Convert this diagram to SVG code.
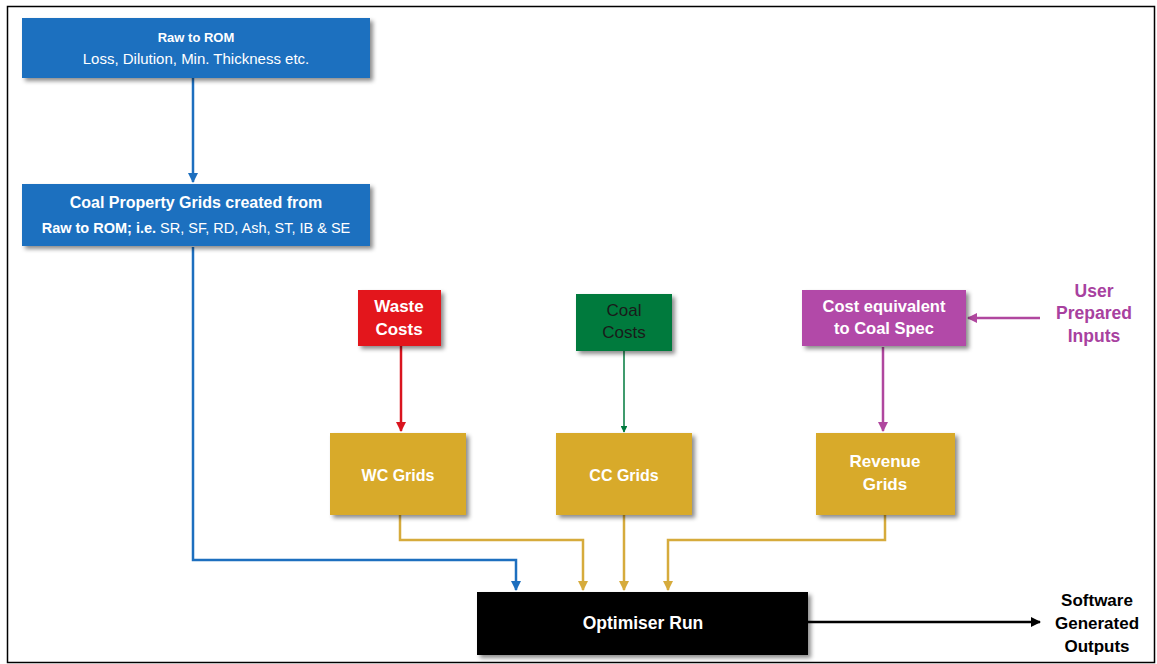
<svg xmlns="http://www.w3.org/2000/svg" width="1157" height="664" viewBox="0 0 1157 664">
<style>
.t{font-family:"Liberation Sans Narrow","Liberation Sans",Arial,sans-serif;text-anchor:middle}
.b{font-weight:bold}
.w{fill:#ffffff}
.ln{fill:none;stroke-width:2.5}
</style>
<defs>
<filter id="sh" x="-10%" y="-10%" width="130%" height="140%">
<feDropShadow dx="3" dy="3" stdDeviation="2" flood-color="#000" flood-opacity="0.45"/>
</filter>
<marker id="ab" viewBox="0 0 10 10" refX="9" refY="5" markerWidth="4" markerHeight="4" orient="auto"><path d="M0,0L10,5L0,10z" fill="#1d6fbf"/></marker>
<marker id="ar" viewBox="0 0 10 10" refX="9" refY="5" markerWidth="4" markerHeight="4" orient="auto"><path d="M0,0L10,5L0,10z" fill="#d9141f"/></marker>
<marker id="ag" viewBox="0 0 10 10" refX="9" refY="5" markerWidth="4.5" markerHeight="4.5" orient="auto"><path d="M0,0L10,5L0,10z" fill="#007a3d"/></marker>
<marker id="ap" viewBox="0 0 10 10" refX="9" refY="5" markerWidth="4" markerHeight="4" orient="auto"><path d="M0,0L10,5L0,10z" fill="#b0479f"/></marker>
<marker id="ay" viewBox="0 0 10 10" refX="9" refY="5" markerWidth="4" markerHeight="4" orient="auto"><path d="M0,0L10,5L0,10z" fill="#d6ab3c"/></marker>
<marker id="ak" viewBox="0 0 10 10" refX="9" refY="5" markerWidth="4" markerHeight="4" orient="auto"><path d="M0,0L10,5L0,10z" fill="#000"/></marker>
</defs>
<rect x="0" y="0" width="1157" height="664" fill="#ffffff"/>
<rect x="7.5" y="6.5" width="1147" height="656" fill="none" stroke="#000" stroke-width="1.5"/>

<g id="connectors">
<path class="ln" d="M193,78 V182" stroke="#1d6fbf" marker-end="url(#ab)"/>
<path class="ln" d="M193,247 V560 H516 V590" stroke="#1d6fbf" marker-end="url(#ab)"/>
<path class="ln" d="M401,346 V431" stroke="#d9141f" marker-end="url(#ar)"/>
<path d="M624,351 V432" fill="none" stroke="#007a3d" stroke-width="1.5" marker-end="url(#ag)"/>
<path class="ln" d="M883,347 V431" stroke="#b0479f" marker-end="url(#ap)"/>
<path class="ln" d="M1040,318 H968" stroke="#b0479f" marker-end="url(#ap)"/>
<path class="ln" d="M400,515 V540 H583 V590" stroke="#d6ab3c" marker-end="url(#ay)"/>
<path class="ln" d="M624,515 V590" stroke="#d6ab3c" marker-end="url(#ay)"/>
<path class="ln" d="M885,515 V540 H668 V590" stroke="#d6ab3c" marker-end="url(#ay)"/>
<path class="ln" d="M808,622 H1040" stroke="#000" marker-end="url(#ak)"/>
</g>

<g id="raw-to-rom">
<rect x="22" y="18" width="348" height="60" fill="#1d6fbf" filter="url(#sh)"/>
<text class="t b w" x="196" y="42" font-size="13">Raw to ROM</text>
<text class="t w" x="196" y="64" font-size="15">Loss, Dilution, Min. Thickness etc.</text>
</g>

<g id="coal-property">
<rect x="22" y="184" width="348" height="62" fill="#1d6fbf" filter="url(#sh)"/>
<text class="t b w" x="196" y="208" font-size="16">Coal Property Grids created from</text>
<text class="t w" x="196" y="233" font-size="14.5"><tspan font-weight="bold">Raw to ROM; i.e.</tspan> SR, SF, RD, Ash, ST, IB &amp; SE</text>
</g>

<g id="waste-costs">
<rect x="358" y="290" width="83" height="56" fill="#e3141f" filter="url(#sh)"/>
<text class="t b w" x="399" y="312" font-size="17">Waste</text>
<text class="t b w" x="399" y="335" font-size="17">Costs</text>
</g>

<g id="coal-costs">
<rect x="576" y="294" width="96" height="57" fill="#007a3d" filter="url(#sh)"/>
<text class="t" x="624" y="316" font-size="17" fill="#1a1a1a" style="font-family:'Liberation Sans',Arial,sans-serif">Coal</text>
<text class="t" x="624" y="338" font-size="17" fill="#1a1a1a" style="font-family:'Liberation Sans',Arial,sans-serif">Costs</text>
</g>

<g id="cost-equivalent">
<rect x="802" y="290" width="164" height="56" fill="#b24aa8" filter="url(#sh)"/>
<text class="t b w" x="884" y="312" font-size="16.5">Cost equivalent</text>
<text class="t b w" x="884" y="334" font-size="16.5">to Coal Spec</text>
</g>

<g id="user-inputs">
<text class="t b" x="1094" y="297" font-size="17.5" fill="#a8419f">User</text>
<text class="t b" x="1094" y="319" font-size="17.5" fill="#a8419f">Prepared</text>
<text class="t b" x="1094" y="342" font-size="17.5" fill="#a8419f">Inputs</text>
</g>

<g id="wc-grids">
<rect x="330" y="433" width="136" height="82" fill="#d8aa2c" filter="url(#sh)"/>
<text class="t b w" x="398" y="481" font-size="16">WC Grids</text>
</g>

<g id="cc-grids">
<rect x="556" y="433" width="136" height="82" fill="#d8aa2c" filter="url(#sh)"/>
<text class="t b w" x="624" y="481" font-size="16">CC Grids</text>
</g>

<g id="revenue-grids">
<rect x="816" y="433" width="139" height="82" fill="#d8aa2c" filter="url(#sh)"/>
<text class="t b w" x="885" y="467" font-size="17">Revenue</text>
<text class="t b w" x="885" y="490" font-size="17">Grids</text>
</g>

<g id="optimiser-run">
<rect x="477" y="592" width="331" height="63" fill="#000" filter="url(#sh)"/>
<text class="t b w" x="643" y="629" font-size="17.5">Optimiser Run</text>
</g>

<g id="software-outputs">
<text class="t b" x="1097" y="606" font-size="17" fill="#000">Software</text>
<text class="t b" x="1097" y="629" font-size="17" fill="#000">Generated</text>
<text class="t b" x="1097" y="652" font-size="17" fill="#000">Outputs</text>
</g>
</svg>
